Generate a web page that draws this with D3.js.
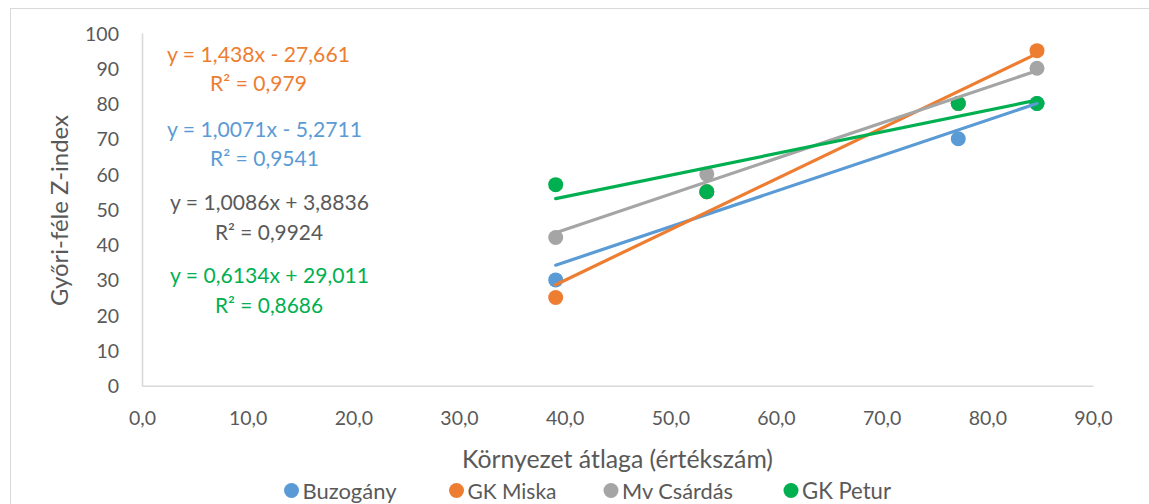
<!DOCTYPE html>
<html><head><meta charset="utf-8">
<script src="https://cdn.jsdelivr.net/npm/d3@7"></script>
<style>body{margin:0;background:#fff}svg{display:block}text{font-family:Lato,"Open Sans",sans-serif}</style>
</head><body><svg id="c" width="1149" height="504"></svg>
<script>
const xValues = [39.15, 53.45, 77.25, 84.7];
const buzogany = [30, 55, 70, 80];
const gkMiska = [25, 55, 80, 95];
const mvCsardas = [42, 60, 80, 90];
const gkPetur = [57, 55, 80, 80];
const seriesNames = ["Buzogány", "GK Miska", "Mv Csárdás", "GK Petur"];
const seriesColors = ["#5B9BD5", "#ED7D31", "#A5A5A5", "#00B050"];
const eqTextColors = ["#5B9BD5", "#ED7D31", "#595959", "#00B050"];
const equations = ["y = 1,0071x - 5,2711", "y = 1,438x - 27,661", "y = 1,0086x + 3,8836", "y = 0,6134x + 29,011"];
const r2Labels = ["R² = 0,9541", "R² = 0,979", "R² = 0,9924", "R² = 0,8686"];
const slopes = [1.0071, 1.438, 1.0086, 0.6134];
const intercepts = [-5.2711, -27.661, 3.8836, 29.011];
const xTicks = [0,10,20,30,40,50,60,70,80,90];
const yTicks = [0,10,20,30,40,50,60,70,80,90,100];
const xTitle = "Környezet átlaga (értékszám)";
const yTitle = "Győri-féle Z-index";

const allValues = [buzogany, gkMiska, mvCsardas, gkPetur];
const svg = d3.select("#c");
const x = d3.scaleLinear().domain([0,90]).range([142,1093]);
const y = d3.scaleLinear().domain([0,100]).range([385.7,33]);

function fit(sel, w){
  const n = sel.node();
  const fs = parseFloat(n.style.fontSize);
  const m = n.getComputedTextLength();
  sel.style("font-size", (fs*w/m).toFixed(2)+"px");
  return sel;
}

// outer border
svg.append("rect").attr("x",10.5).attr("y",8.5).attr("width",1160).attr("height",520)
  .attr("fill","none").attr("stroke","#d9d9d9").attr("stroke-width",1);

// axes
const xAxis = svg.append("g").attr("transform","translate(0,385.7)")
  .call(d3.axisBottom(x).tickValues(xTicks).tickSize(0).tickFormat(d=>d3.format(".1f")(d).replace(".",",")));
const yAxis = svg.append("g").attr("transform","translate(142,0)")
  .call(d3.axisLeft(y).tickValues(yTicks).tickSize(0));
[xAxis,yAxis].forEach(g=>{
  g.select(".domain").attr("stroke","#d9d9d9").attr("stroke-width",1.6);
  g.selectAll("text").attr("fill","#595959").style("font-size","19.5px").style("font-family","Lato,'Open Sans',sans-serif");
});
yAxis.selectAll("text").attr("x",-23).attr("dy","0.36em");
xAxis.selectAll("text").attr("dy",0).attr("y",39);

// axis titles
fit(svg.append("text").attr("x",617.5).attr("y",468).attr("text-anchor","middle")
  .attr("fill","#595959").style("font-size","24px").text(xTitle), 311);
fit(svg.append("text").attr("transform","translate(68,210.5) rotate(-90)").attr("text-anchor","middle")
  .attr("fill","#595959").style("font-size","24px").text(yTitle), 191);

// markers
allValues.forEach((vals,i)=>{
  svg.append("g").selectAll("circle").data(vals).join("circle")
    .attr("cx",(d,j)=>x(xValues[j])).attr("cy",d=>y(d)).attr("r",7.5).attr("fill",seriesColors[i]);
});
// trendlines
const xmin = d3.min(xValues), xmax = d3.max(xValues);
allValues.forEach((vals,i)=>{
  svg.append("line")
    .attr("x1",x(xmin)).attr("y1",y(slopes[i]*xmin+intercepts[i]))
    .attr("x2",x(xmax)).attr("y2",y(slopes[i]*xmax+intercepts[i]))
    .attr("stroke",seriesColors[i]).attr("stroke-width",3.2).attr("stroke-linecap","round");
});

// equation labels: [eq left, eq right, eq baseline, r2 left, r2 right, r2 baseline]
const eqBoxes = [
  [167,362,136.7, 210,319,165.7],
  [167,350,62,    210,307,90.7],
  [170,369,210,   215,323,240],
  [170,369,283,   215,323,312.7]
];
equations.forEach((e,i)=>{
  const b = eqBoxes[i];
  fit(svg.append("text").attr("x",(b[0]+b[1])/2).attr("y",b[2]).attr("text-anchor","middle")
    .attr("fill",eqTextColors[i]).style("font-size","21px").text(e), b[1]-b[0]);
  fit(svg.append("text").attr("x",(b[3]+b[4])/2).attr("y",b[5]).attr("text-anchor","middle")
    .attr("fill",eqTextColors[i]).style("font-size","21px").text(r2Labels[i]), b[4]-b[3]);
});

// legend
const legX = [291.5, 456.5, 611, 791];
const legW = [94, 89, 111, 89];
seriesNames.forEach((n,i)=>{
  svg.append("circle").attr("cx",legX[i]).attr("cy",490.5).attr("r",7.5).attr("fill",seriesColors[i]);
  fit(svg.append("text").attr("x",legX[i]+11).attr("y",499).attr("fill","#595959").style("font-size","22px").text(n), legW[i]);
});
</script></body></html>
